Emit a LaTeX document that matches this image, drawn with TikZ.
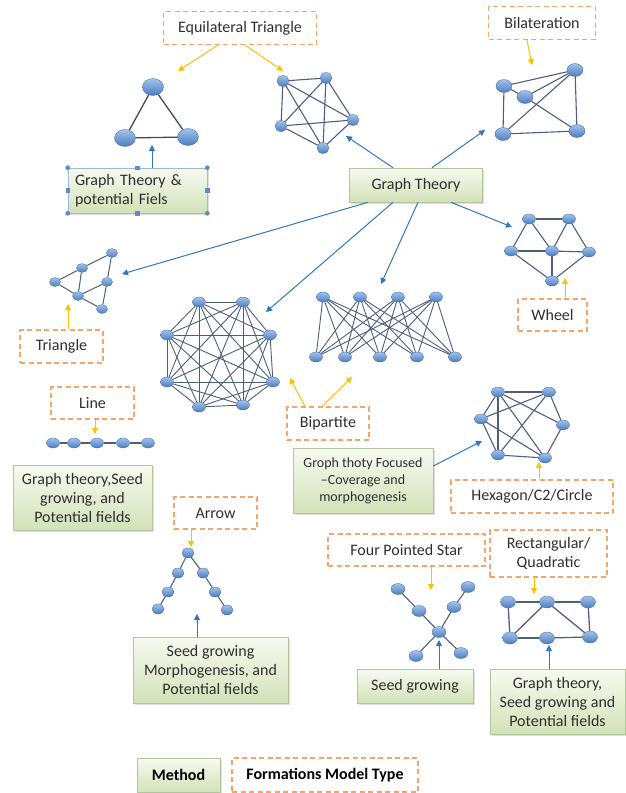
\documentclass[tikz,border=0pt]{standalone}
\usepackage{fontspec}
\setmainfont{Carlito}
\usetikzlibrary{shapes.geometric,arrows.meta,shadows}
\definecolor{nodeblue}{HTML}{4A7EC0}
\definecolor{nodelight}{HTML}{A3C2EA}
\definecolor{edgegray}{HTML}{4E5F7C}
\definecolor{boxtop}{HTML}{F7FAF0}
\definecolor{boxbottom}{HTML}{D3E1B9}
\definecolor{boxline}{HTML}{B5C59B}
\definecolor{dashorange}{HTML}{F5A46B}
\definecolor{arrowgold}{HTML}{FFC000}
\definecolor{arrowblue}{HTML}{2E78BE}
\definecolor{textgray}{HTML}{2F2F2F}
\definecolor{handleblue}{HTML}{5B8BD0}
\tikzset{
  gnode/.style={ellipse,inner sep=0pt,minimum width=13pt,minimum height=10pt,draw=nodeblue!80!black,line width=.3pt,top color=nodelight,bottom color=nodeblue},
  midnode/.style={gnode,minimum width=16pt,minimum height=13pt},
  bignode/.style={gnode,minimum width=21pt,minimum height=17pt},
  edge/.style={draw=edgegray,line width=1.1pt},
  method/.style={draw=boxline,line width=.6pt,top color=boxtop,bottom color=boxbottom,drop shadow={opacity=.25,shadow xshift=1.5pt,shadow yshift=-1.5pt},align=center,inner sep=2pt,text=textgray,font=\fontsize{16}{19}\selectfont},
  formation/.style={draw=dashorange,dash pattern=on 5pt off 3.5pt,line width=1.1pt,fill=white,align=center,inner sep=2pt,text=textgray,font=\fontsize{16}{19}\selectfont},
  goldarrow/.style={draw=arrowgold,line width=1pt,-{Triangle[length=6pt,width=6pt]},arrowgold},
  bluearrow/.style={draw=arrowblue,line width=1pt,-{Triangle[length=6pt,width=6pt]},arrowblue}
}
\begin{document}
\begin{tikzpicture}[x=1pt,y=-1pt]
\useasboundingbox (0,0) rectangle (625,793);

% formation model types
\node[formation,minimum width=153pt,minimum height=33pt] (eqtri) at (240,28) {Equilateral Triangle};
\node[formation,minimum width=107pt,minimum height=33pt] (bilat) at (542,23) {Bilateration};
\node[formation,minimum width=83pt,minimum height=33pt] (tri) at (61.5,346.5) {Triangle};
\node[formation,minimum width=83pt,minimum height=32pt] (line) at (92.5,403) {Line};
\node[formation,minimum width=83pt,minimum height=32pt] (arrow) at (215.5,513) {Arrow};
\node[formation,minimum width=82pt,minimum height=33pt] (bip) at (328,423.5) {Bipartite};
\node[formation,minimum width=69pt,minimum height=32pt] (wheel) at (552.5,315) {Wheel};
\node[formation,minimum width=162pt,minimum height=33pt] (hex) at (532,496.5) {Hexagon/C2/Circle};
\node[formation,minimum width=157pt,minimum height=32pt] (star) at (406.5,550) {Four Pointed Star};
\node[formation,minimum width=117pt,minimum height=47pt] (rect) at (548.5,553.5) {Rectangular/\\Quadratic};
\node[formation,minimum width=186pt,minimum height=34pt,font=\bfseries\fontsize{16}{19}\selectfont,text=black] (fmt) at (325,775) {Formations Model Type};

% methods
\node[method,minimum width=133pt,minimum height=34pt] (gt) at (416,185) {Graph Theory};
\node[method,draw=handleblue!60,minimum width=139pt,minimum height=45pt,align=left,text width=125pt] (gtpf) at (137.5,190.5) {Graph Theory \&\\potential Fiels};
\node[method,minimum width=139pt,minimum height=65pt] (gtsg) at (82.5,497.5) {Graph theory,Seed\\growing, and\\Potential fields};
\node[method,minimum width=140pt,minimum height=65pt,font=\fontsize{14}{17}\selectfont] (groph) at (363,480.5) {Groph thoty Focused\\–Coverage and\\morphogenesis};
\node[method,minimum width=155pt,minimum height=66pt] (sgmp) at (210.5,670) {Seed growing\\Morphogenesis, and\\Potential fields};
\node[method,minimum width=116pt,minimum height=34pt] (sg) at (415,686) {Seed growing};
\node[method,minimum width=135pt,minimum height=65pt] (gtsg2) at (557.5,701.5) {Graph theory,\\Seed growing and\\Potential fields};
\node[method,minimum width=83pt,minimum height=34pt,font=\bfseries\fontsize{16}{19}\selectfont,text=black] (method) at (178.5,775) {Method};

% selection handles
\foreach \p in {north west,north east,south west,south east}
  \fill[handleblue] (gtpf.\p) circle (2.4pt);
\foreach \p in {north,south,east,west}
  \fill[handleblue] ([shift={(-2.2pt,-2.2pt)}]gtpf.\p) rectangle ++(4.4pt,4.4pt);

% equilateral triangle
\foreach \n/\x/\y in {1/153/87,2/125/138,3/188/137}
  \node[bignode] (eq\n) at (\x,\y) {};
\foreach \a/\b in {eq1/eq2,eq2/eq3,eq3/eq1}
  \draw[edge,draw=edgegray!80!black,line width=1.3pt] (\a) -- (\b);

% complete pentagon
\foreach \n/\x/\y in {1/283/81,2/326/78,3/281/126,4/353/120,5/323/148}
  \node[gnode,minimum width=12pt,minimum height=11pt] (k\n) at (\x,\y) {};
\foreach \i [evaluate=\i as \m using int(\i+1)] in {1,...,4}
  \foreach \j in {\m,...,5}
    \draw[edge] (k\i) -- (k\j);

% bilateration
\foreach \n/\x/\y in {1/504/86,2/575/70,3/525/97,4/503/134,5/577/131}
  \node[midnode] (b\n) at (\x,\y) {};
\foreach \a/\b in {b1/b2,b1/b4,b1/b3,b3/b2,b3/b5,b4/b2,b4/b5,b2/b5}
  \draw[edge] (\a) -- (\b);

% triangle grid
\foreach \n/\x/\y in {1/112/253,2/82/268,3/55/282,4/107/282,5/78/296,6/102/309}
  \node[gnode,minimum width=11pt,minimum height=9pt] (t\n) at (\x,\y) {};
\foreach \a/\b in {t1/t2,t2/t3,t1/t4,t4/t6,t3/t5,t5/t6,t2/t5,t4/t5}
  \draw[edge,line width=1pt] (\a) -- (\b);

% complete octagon
\foreach \n/\x/\y in {1/199/302,2/243/302,3/270/335,4/273/382,5/243/405,6/199/407,7/167/382,8/167/335}
  \node[gnode] (o\n) at (\x,\y) {};
\foreach \i [evaluate=\i as \m using int(\i+1)] in {1,...,7}
  \foreach \j in {\m,...,8}
    \draw[edge,line width=.9pt] (o\i) -- (o\j);

% bipartite
\foreach \n/\x in {1/323,2/360,3/398,4/436}
  \node[gnode] (u\n) at (\x,297) {};
\foreach \n/\x in {1/316,2/345,3/380,4/417,5/455}
  \node[gnode] (l\n) at (\x,357) {};
\foreach \i in {1,...,4}
  \foreach \j in {1,...,5}
    \draw[edge,line width=.9pt] (u\i) -- (l\j);

% wheel
\foreach \n/\x/\y in {1/529/219,2/569/219,3/511/251,4/552/251,5/589/252,6/552/281}
  \node[gnode] (w\n) at (\x,\y) {};
\foreach \a/\b in {w1/w2,w1/w3,w1/w4,w2/w4,w2/w5,w3/w4,w4/w5,w3/w6,w4/w6,w5/w6}
  \draw[edge] (\a) -- (\b);

% line
\foreach \n/\x in {1/53,2/74,3/97,4/123,5/148}
  \node[gnode] (ln\n) at (\x,443) {};
\foreach \a/\b in {ln1/ln2,ln2/ln3,ln3/ln4,ln4/ln5}
  \draw[edge] (\a) -- (\b);

% hexagon
\foreach \n/\x/\y in {1/498/392,2/549/392,3/481/419,4/563/425,5/498/455,6/545/458}
  \node[gnode] (h\n) at (\x,\y) {};
\foreach \a/\b in {h1/h2,h2/h4,h4/h6,h6/h5,h5/h3,h3/h1,h1/h5,h1/h4,h3/h2,h1/h6,h2/h5,h3/h6}
  \draw[edge] (\a) -- (\b);

% arrow
\foreach \n/\x/\y in {0/188/553,1/178/573,2/168/592,3/158/609,4/203/573,5/215/592,6/227/610}
  \node[gnode,minimum width=12pt] (a\n) at (\x,\y) {};
\foreach \a/\b in {a0/a1,a1/a2,a2/a3,a0/a4,a4/a5,a5/a6}
  \draw[edge] (\a) -- (\b);

% four pointed star
\foreach \n/\x/\y in {0/439/632,1/398/589,2/419/611,3/468/587,4/454/607,5/416/656,6/461/653}
  \node[gnode,minimum width=14pt,minimum height=11pt] (s\n) at (\x,\y) {};
\foreach \a/\b in {s1/s2,s2/s0,s3/s4,s4/s0,s0/s5,s0/s6}
  \draw[edge] (\a) -- (\b);

% rectangular
\foreach \n/\x/\y in {1/508/602,2/547/602,3/588/602,4/510/638,5/547/638,6/590/637}
  \node[midnode,minimum width=15pt,minimum height=12pt] (r\n) at (\x,\y) {};
\foreach \a/\b in {r1/r2,r2/r3,r1/r4,r3/r6,r4/r5,r5/r6,r4/r2,r2/r6}
  \draw[edge,line width=1.3pt] (\a) -- (\b);

% arrow ends
\coordinate (eqL) at (178,71);
\coordinate (eqR) at (283,71);
\coordinate (bilatT) at (532,65);
\coordinate (triT) at (68,304);
\coordinate (lineT) at (95,434);
\coordinate (arrowT) at (191,547);
\coordinate (octT) at (290,378);
\coordinate (bipT) at (352,377);
\coordinate (wheelT) at (565,278);
\coordinate (hexT) at (539,462);
\coordinate (starT) at (431,590);
\coordinate (rectT) at (534,594);
\coordinate (gtpfT) at (152,145);
\coordinate (k5T) at (346,136);
\coordinate (bilatB) at (485,130);
\coordinate (wheelB) at (512,227);
\coordinate (bipB) at (381,284);
\coordinate (octB) at (266,312);
\coordinate (triB) at (122,274);
\coordinate (hexB) at (482,441);
\coordinate (sgmpT) at (197,614);
\coordinate (sgT) at (439,640);
\coordinate (gtsgT) at (549,645);

\draw[goldarrow] ([xshift=-22pt]eqtri.south) -- (eqL);
\draw[goldarrow] ([xshift=5pt]eqtri.south) -- (eqR);
\draw[goldarrow] ([xshift=-15pt]bilat.south) -- (bilatT);
\draw[goldarrow] ([xshift=6.5pt]tri.north) -- (triT);
\draw[goldarrow] ([xshift=2.5pt]line.south) -- (lineT);
\draw[goldarrow] ([xshift=-24.5pt]arrow.south) -- (arrowT);
\draw[goldarrow] ([xshift=-23pt]bip.north) -- (octT);
\draw[goldarrow] ([xshift=-6pt]bip.north) -- (bipT);
\draw[goldarrow] ([xshift=12.5pt]wheel.north) -- (wheelT);
\draw[goldarrow] ([xshift=7pt]hex.north) -- (hexT);
\draw[goldarrow] ([xshift=24.5pt]star.south) -- (starT);
\draw[goldarrow] ([xshift=-14.5pt]rect.south) -- (rectT);

\draw[bluearrow] ([xshift=14.5pt]gtpf.north) -- (gtpfT);
\draw[bluearrow] ([xshift=-23pt]gt.north) -- (k5T);
\draw[bluearrow] ([xshift=16pt]gt.north) -- (bilatB);
\draw[bluearrow] ([xshift=35pt]gt.south) -- (wheelB);
\draw[bluearrow] ([xshift=2pt]gt.south) -- (bipB);
\draw[bluearrow] ([xshift=-23pt]gt.south) -- (octB);
\draw[bluearrow] ([xshift=-48pt]gt.south) -- (triB);
\draw[bluearrow] ([yshift=14.5pt]groph.east) -- (hexB);
\draw[bluearrow] ([xshift=-13.5pt]sgmp.north) -- (sgmpT);
\draw[bluearrow] ([xshift=24pt]sg.north) -- (sgT);
\draw[bluearrow] ([xshift=-8.5pt]gtsg2.north) -- (gtsgT);
\end{tikzpicture}
\end{document}
